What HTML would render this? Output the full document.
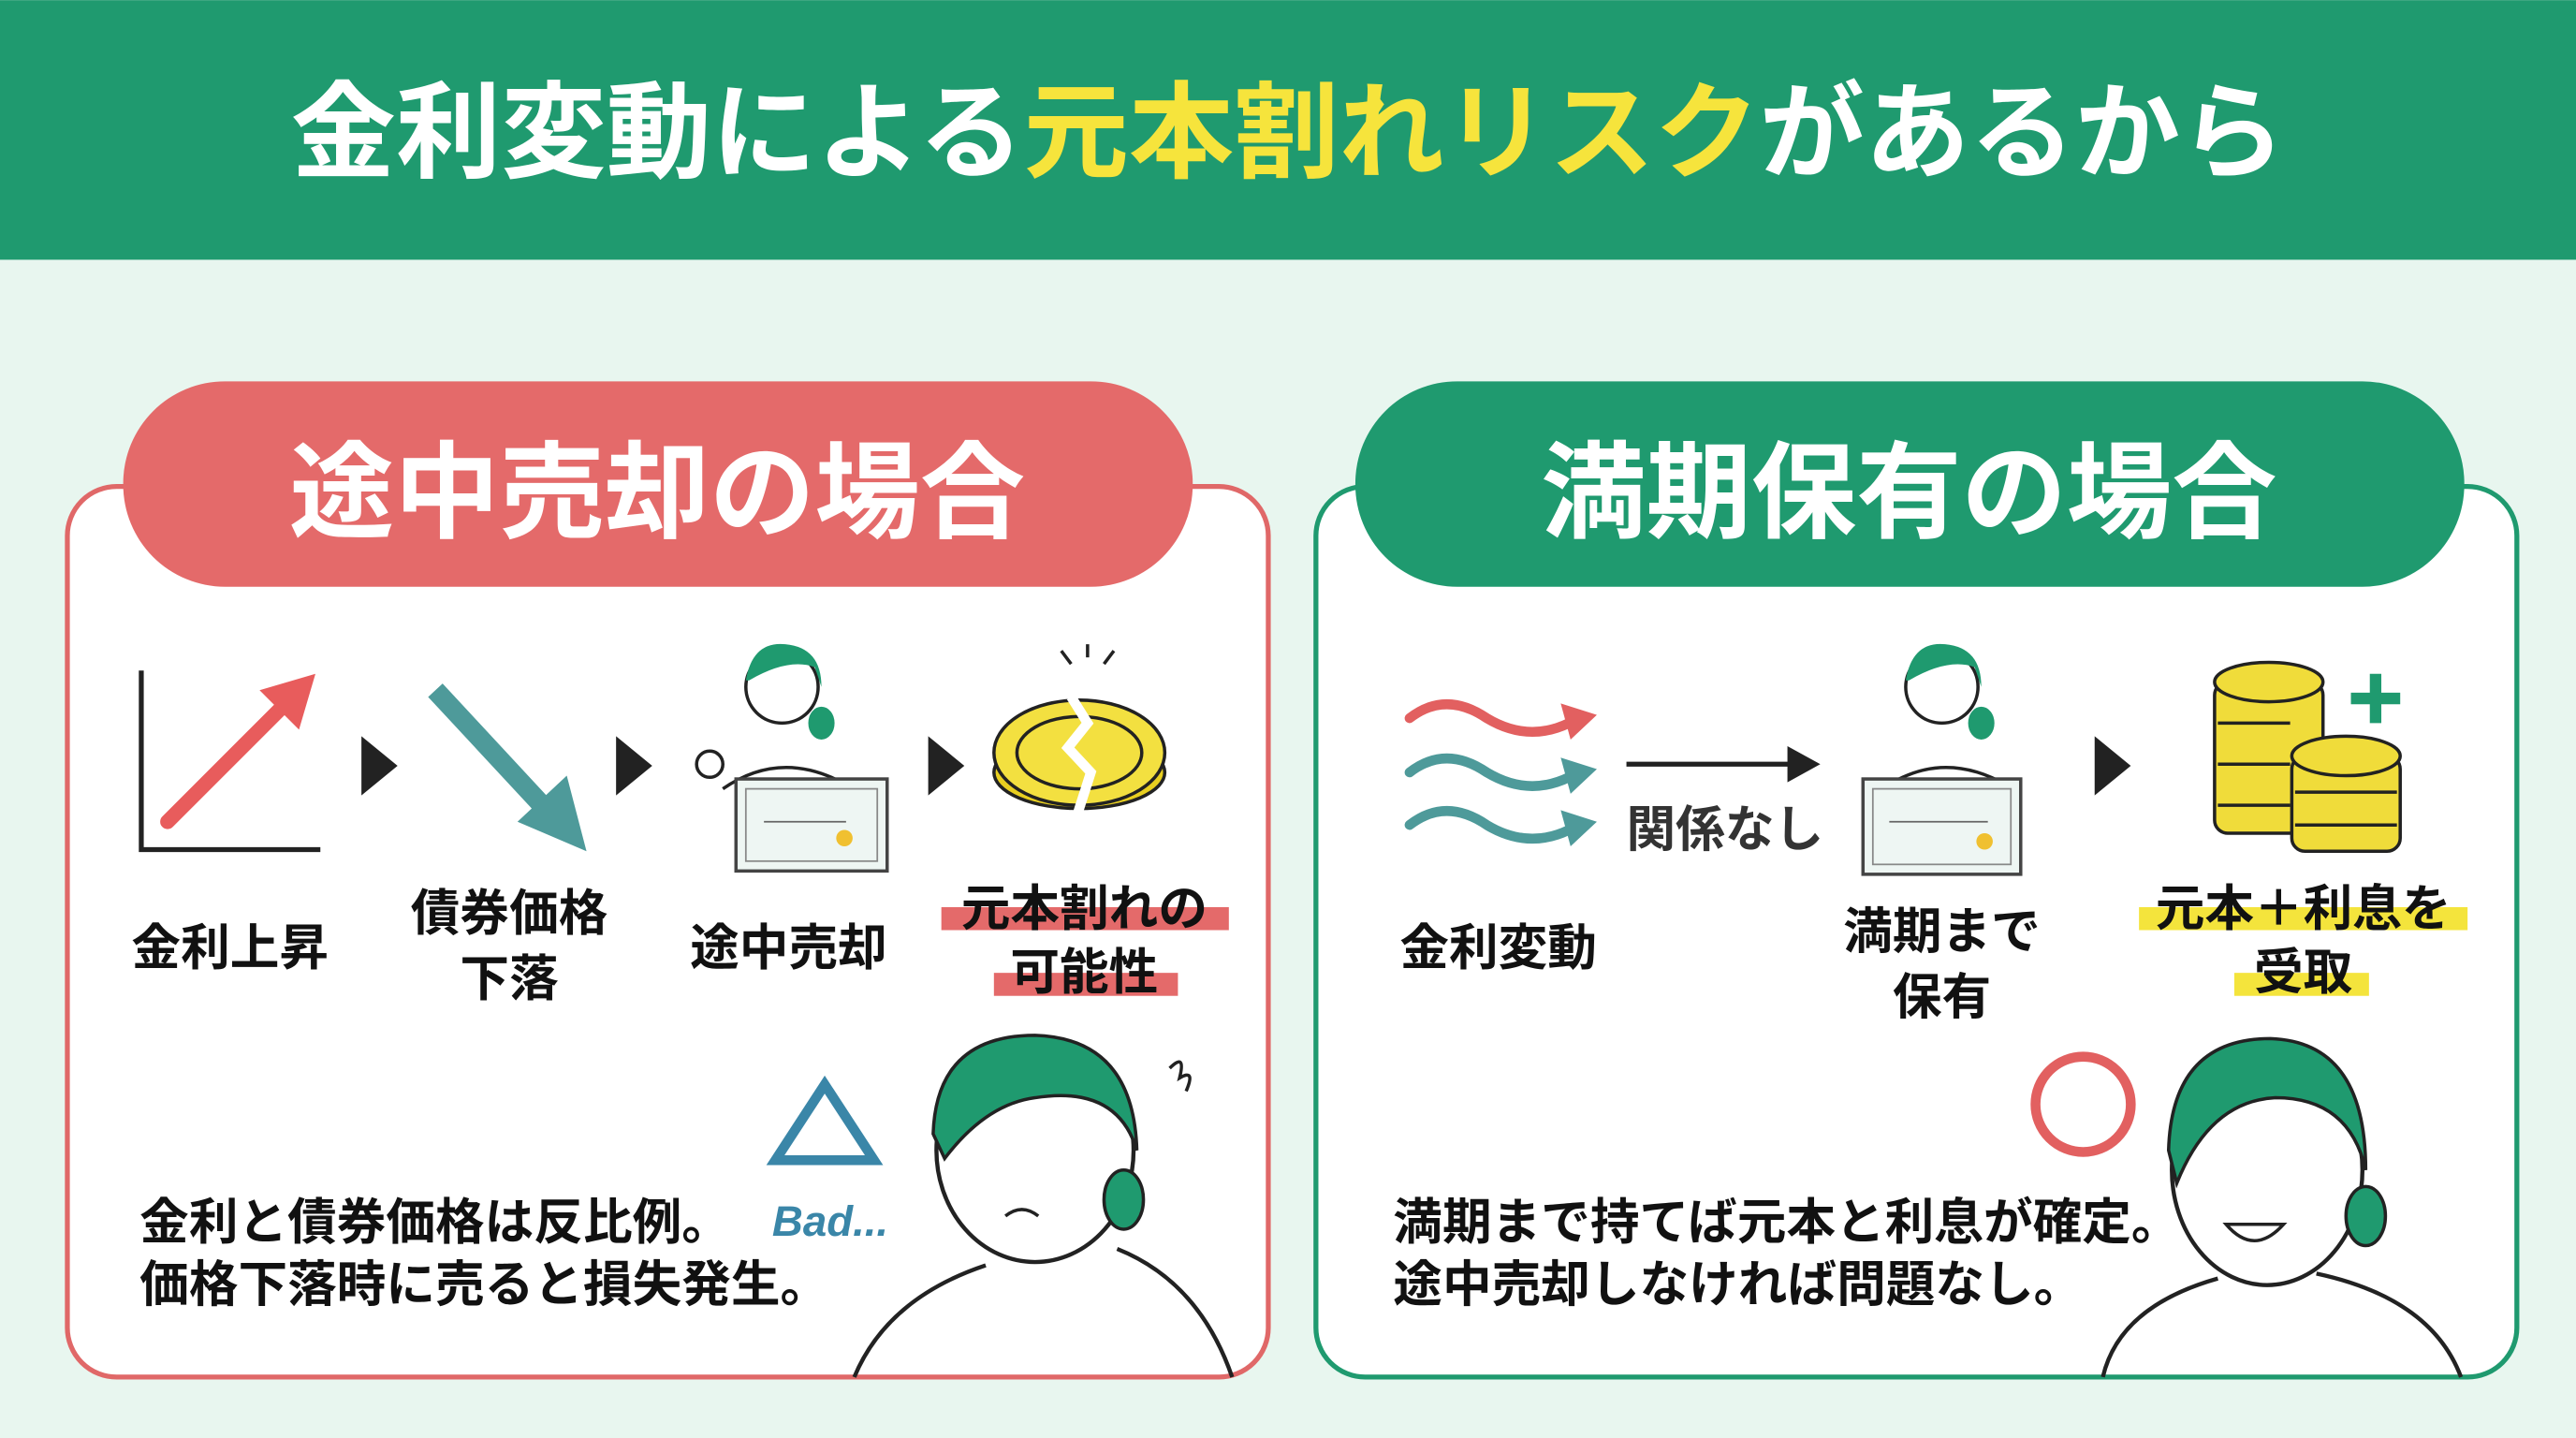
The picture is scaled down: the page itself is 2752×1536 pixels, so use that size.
<!DOCTYPE html>
<html><head><meta charset="utf-8"><style>
html,body{margin:0;padding:0;background:#e8f6ef;}
svg{display:block}
text{font-family:"Liberation Sans","Noto Sans CJK JP",sans-serif;font-weight:700}
</style></head><body>
<svg width="2752" height="1536" viewBox="0 0 1568 875" xmlns="http://www.w3.org/2000/svg">
<rect width="1568" height="875" fill="#e8f6ef"/>
<rect width="1568" height="158" fill="#1f9a6f"/>
<text x="784" y="103" text-anchor="middle" font-size="64" fill="#fff">金利変動による<tspan fill="#f6e43c">元本割れリスク</tspan>があるから</text>

<!-- left panel -->
<rect x="41" y="296" width="731" height="542" rx="30" fill="#fff" stroke="#e06868" stroke-width="3"/>
<rect x="75" y="232" width="651" height="125" rx="62" fill="#e46a6a"/>
<text x="400" y="322" text-anchor="middle" font-size="64" fill="#fff">途中売却の場合</text>

<!-- chart -->
<polyline points="86,408 86,517 195,517" fill="none" stroke="#222" stroke-width="3"/>
<line x1="102" y1="500" x2="172" y2="430" stroke="#e85c5c" stroke-width="9" stroke-linecap="round"/>
<polygon points="192,410 158,420 182,444" fill="#e85c5c"/>
<polygon points="220,448 242,466 220,484" fill="#222"/>
<line x1="265" y1="420" x2="330" y2="490" stroke="#4e9a9a" stroke-width="12"/>
<polygon points="357,518 315,500 345,472" fill="#4e9a9a"/>
<polygon points="375,448 397,466 375,484" fill="#222"/>
<!-- person w/ certificate -->
<circle cx="476" cy="418" r="22" fill="#fff" stroke="#222" stroke-width="2"/>
<path d="M454,414 Q458,390 478,392 Q500,394 500,418 L496,406 Q480,400 456,414Z" fill="#1f9a6f"/>
<ellipse cx="500" cy="440" rx="8" ry="10" fill="#1f9a6f"/>
<path d="M440,480 Q476,455 516,478" fill="none" stroke="#222" stroke-width="2"/>
<rect x="448" y="474" width="92" height="56" fill="#eef6f3" stroke="#444" stroke-width="2"/>
<rect x="454" y="480" width="80" height="44" fill="none" stroke="#888" stroke-width="1"/>
<circle cx="514" cy="510" r="5" fill="#f0c030"/>
<line x1="465" y1="500" x2="515" y2="500" stroke="#666"/>
<circle cx="432" cy="465" r="8" fill="none" stroke="#222" stroke-width="2"/>
<polygon points="565,448 587,466 565,484" fill="#222"/>
<!-- broken coin -->
<ellipse cx="657" cy="470" rx="52" ry="22" fill="#e8cf20" stroke="#222" stroke-width="2"/>
<ellipse cx="657" cy="458" rx="52" ry="32" fill="#f3e040" stroke="#222" stroke-width="2"/>
<ellipse cx="657" cy="458" rx="38" ry="22" fill="none" stroke="#222" stroke-width="2"/>
<polyline points="652,424 662,440 650,455 664,470 655,498" fill="none" stroke="#fff" stroke-width="6"/>
<g stroke="#222" stroke-width="2"><line x1="652" y1="404" x2="646" y2="396"/><line x1="662" y1="400" x2="662" y2="392"/><line x1="672" y1="404" x2="678" y2="396"/></g>

<g font-size="30" fill="#111" text-anchor="middle">
<text x="140" y="587">金利上昇</text>
<text x="310" y="566">債券価格</text><text x="310" y="606">下落</text>
<text x="480" y="587">途中売却</text>
</g>
<rect x="573" y="552" width="175" height="14" fill="#e46a6a"/>
<rect x="605" y="592" width="112" height="14" fill="#e46a6a"/>
<g font-size="30" fill="#111" text-anchor="middle">
<text x="660" y="563">元本割れの</text><text x="660" y="602">可能性</text>
</g>
<polygon points="502,660 532,706 472,706" fill="none" stroke="#3a86a8" stroke-width="6"/>
<text x="470" y="752" font-size="26" fill="#3a86a8" font-weight="400" font-style="italic">Bad...</text>
<g font-size="30" fill="#111"><text x="85" y="754">金利と債券価格は反比例。</text><text x="85" y="792">価格下落時に売ると損失発生。</text></g>
<!-- worried face -->
<ellipse cx="630" cy="700" rx="60" ry="68" fill="#fff" stroke="#222" stroke-width="2.5"/>
<path d="M568,690 Q570,630 630,630 Q690,632 692,700 Q680,660 630,668 Q600,672 575,705Z" fill="#1f9a6f" stroke="#222" stroke-width="2"/>
<ellipse cx="684" cy="730" rx="12" ry="18" fill="#1f9a6f" stroke="#222" stroke-width="2"/>
<path d="M520,838 Q540,790 600,770 M680,760 Q730,780 750,838" fill="none" stroke="#222" stroke-width="2.5"/>
<path d="M612,740 Q622,732 632,740" fill="none" stroke="#222" stroke-width="2"/>
<path d="M712,650 q10,-10 6,6 q10,-6 4,8" fill="none" stroke="#222" stroke-width="2"/>

<!-- right panel -->
<rect x="801" y="296" width="731" height="542" rx="30" fill="#fff" stroke="#1f9a6f" stroke-width="3"/>
<rect x="825" y="232" width="675" height="125" rx="62" fill="#1f9a6f"/>
<text x="1162" y="322" text-anchor="middle" font-size="64" fill="#fff">満期保有の場合</text>
<g fill="none" stroke-width="6" stroke-linecap="round">
<path d="M858,437 Q880,420 905,437 Q930,452 955,440" stroke="#e26060"/>
<path d="M858,470 Q880,453 905,470 Q930,485 955,473" stroke="#4e9a9a"/>
<path d="M858,502 Q880,485 905,502 Q930,517 955,505" stroke="#4e9a9a"/>
</g>
<polygon points="972,435 950,428 956,450" fill="#e26060"/>
<polygon points="972,468 950,461 956,483" fill="#4e9a9a"/>
<polygon points="972,500 950,493 956,515" fill="#4e9a9a"/>
<line x1="990" y1="465" x2="1090" y2="465" stroke="#222" stroke-width="3"/>
<polygon points="1108,465 1088,454 1088,476" fill="#222"/>
<text x="990" y="515" font-size="30" fill="#333">関係なし</text>
<circle cx="1182" cy="418" r="22" fill="#fff" stroke="#222" stroke-width="2"/>
<path d="M1160,414 Q1164,390 1184,392 Q1206,394 1206,418 L1202,406 Q1186,400 1162,414Z" fill="#1f9a6f"/>
<ellipse cx="1206" cy="440" rx="8" ry="10" fill="#1f9a6f"/>
<path d="M1146,480 Q1182,455 1222,478" fill="none" stroke="#222" stroke-width="2"/>
<rect x="1134" y="474" width="96" height="58" fill="#eef6f3" stroke="#444" stroke-width="2"/>
<rect x="1140" y="480" width="84" height="46" fill="none" stroke="#888"/>
<circle cx="1208" cy="512" r="5" fill="#f0c030"/>
<line x1="1150" y1="500" x2="1210" y2="500" stroke="#666"/>
<polygon points="1275,448 1297,466 1275,484" fill="#222"/>
<g stroke="#222" stroke-width="2" fill="#f0dc3a">
<rect x="1348" y="415" width="66" height="92" rx="8"/>
<ellipse cx="1381" cy="415" rx="33" ry="12"/>
<rect x="1395" y="460" width="66" height="58" rx="8"/>
<ellipse cx="1428" cy="460" rx="33" ry="12"/>
</g>
<g stroke="#222" stroke-width="2"><line x1="1350" y1="440" x2="1394" y2="440"/><line x1="1350" y1="465" x2="1394" y2="465"/><line x1="1350" y1="490" x2="1394" y2="490"/><line x1="1397" y1="482" x2="1459" y2="482"/><line x1="1397" y1="502" x2="1459" y2="502"/></g>
<path d="M1446,410 v30 M1431,425 h30" stroke="#1f9a6f" stroke-width="7"/>
<g font-size="30" fill="#111" text-anchor="middle">
<text x="912" y="587">金利変動</text>
<text x="1182" y="577">満期まで</text><text x="1182" y="617">保有</text>
</g>
<rect x="1302" y="552" width="200" height="14" fill="#f4e43c"/>
<rect x="1360" y="592" width="82" height="14" fill="#f4e43c"/>
<g font-size="30" fill="#111" text-anchor="middle">
<text x="1402" y="563">元本＋利息を</text><text x="1402" y="602">受取</text>
</g>
<circle cx="1268" cy="672" r="29" fill="none" stroke="#e26060" stroke-width="6"/>
<g font-size="30" fill="#111"><text x="848" y="754">満期まで持てば元本と利息が確定。</text><text x="848" y="792">途中売却しなければ問題なし。</text></g>
<ellipse cx="1380" cy="712" rx="58" ry="70" fill="#fff" stroke="#222" stroke-width="2.5"/>
<path d="M1320,700 Q1322,632 1382,632 Q1440,634 1440,712 Q1430,668 1385,668 Q1345,670 1325,720Z" fill="#1f9a6f" stroke="#222" stroke-width="2"/>
<ellipse cx="1440" cy="740" rx="12" ry="18" fill="#1f9a6f" stroke="#222" stroke-width="2"/>
<path d="M1355,745 Q1372,765 1390,745Z" fill="#fff" stroke="#222" stroke-width="2"/>
<path d="M1280,838 Q1290,795 1350,778 M1410,775 Q1480,790 1498,838" fill="none" stroke="#222" stroke-width="2.5"/>
</svg>
</body></html>
